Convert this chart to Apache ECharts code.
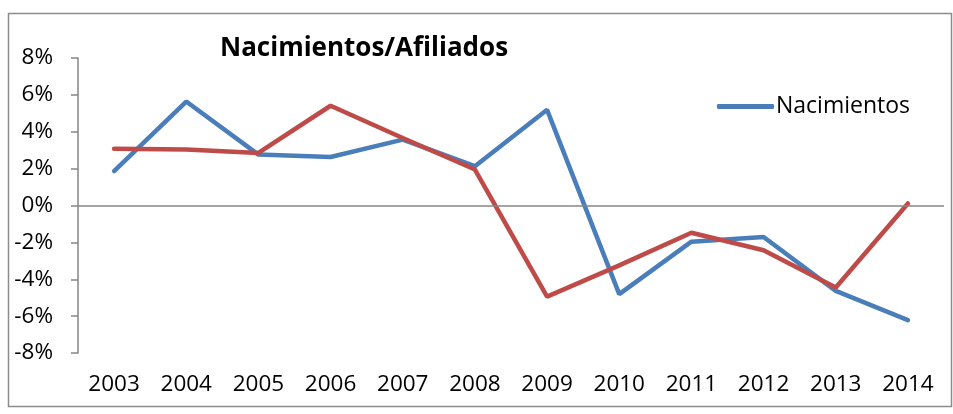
<!DOCTYPE html>
<html>
<head>
<meta charset="utf-8">
<script src="https://cdn.jsdelivr.net/npm/echarts@6/dist/echarts.min.js"></script>
<style>
    html, body { margin: 0; padding: 0; background: #fff; }
    #chart { width: 953px; height: 414px; }
</style>
</head>
<body>
<div id="chart"></div>
<script>
// data
const years = ["2003", "2004", "2005", "2006", "2007", "2008", "2009", "2010", "2011", "2012", "2013", "2014"]
const nacimientos = [1.87, 5.64, 2.76, 2.63, 3.57, 2.13, 5.19, -4.81, -1.96, -1.71, -4.63, -6.22]
const afiliados = [3.08, 3.04, 2.85, 5.41, 3.66, 1.95, -4.94, -3.25, -1.48, -2.43, -4.45, 0.11]

const font = "Open Sans"
const chart = echarts.init(document.getElementById("chart"))

const option = {
    backgroundColor: "#fff",
    animation: false,
    title: {
        text: "Nacimientos/Afiliados",
        left: 215,
        top: 31,
        textStyle: {
            fontFamily: font,
            fontWeight: "bold",
            fontSize: 26,
            color: "#000",
        },
    },
    legend: {
        data: ["Nacimientos"],
        left: 712,
        top: 90,
        icon: "roundRect",
        itemWidth: 57,
        itemHeight: 5,
        itemGap: 4,
        textStyle: {
            fontFamily: font,
            fontSize: 23,
            color: "#000",
            padding: [0, 0, 0, -3],
        },
    },
    graphic: [
        {
            type: "rect",
            shape: { x: 8.5, y: 13.5, width: 943, height: 393 },
            style: { fill: "none", stroke: "#8c8c8c", lineWidth: 1.5 },
            silent: true,
        },
    ],
    grid: {
        left: 78,
        right: 9,
        top: 58,
        bottom: 61,
    },
    xAxis: {
        type: "category",
        data: years,
        boundaryGap: true,
        axisLine: { show: false },
        axisTick: { show: false },
        axisLabel: {
            fontFamily: font,
            fontSize: 22.5,
            color: "#000",
            margin: 20,
        },
    },
    yAxis: {
        type: "value",
        min: -8,
        max: 8,
        interval: 2,
        axisLine: { show: true, lineStyle: { color: "#868686", width: 1.5 } },
        axisTick: { show: true, length: 7, lineStyle: { color: "#868686", width: 1.5 } },
        splitLine: { show: false },
        axisLabel: {
            fontFamily: font,
            fontSize: 22.5,
            color: "#000",
            margin: 25,
            formatter: (v) => v + "%",
        },
    },
    series: [
        {
            name: "Nacimientos",
            type: "line",
            data: nacimientos,
            showSymbol: false,
            symbol: "none",
            lineStyle: { color: "#4a7ebb", width: 4.5, cap: "round" },
            itemStyle: { color: "#4a7ebb" },
            markLine: {
                silent: true,
                symbol: "none",
                label: { show: false },
                lineStyle: { color: "#868686", width: 1.5, type: "solid" },
                data: [{ yAxis: 0 }],
            },
            z: 2,
        },
        {
            name: "Afiliados",
            type: "line",
            data: afiliados,
            showSymbol: false,
            symbol: "none",
            lineStyle: { color: "#be4b48", width: 4.5, cap: "round" },
            itemStyle: { color: "#be4b48" },
            z: 3,
        },
    ],
}

chart.setOption(option)
</script>
</body>
</html>
